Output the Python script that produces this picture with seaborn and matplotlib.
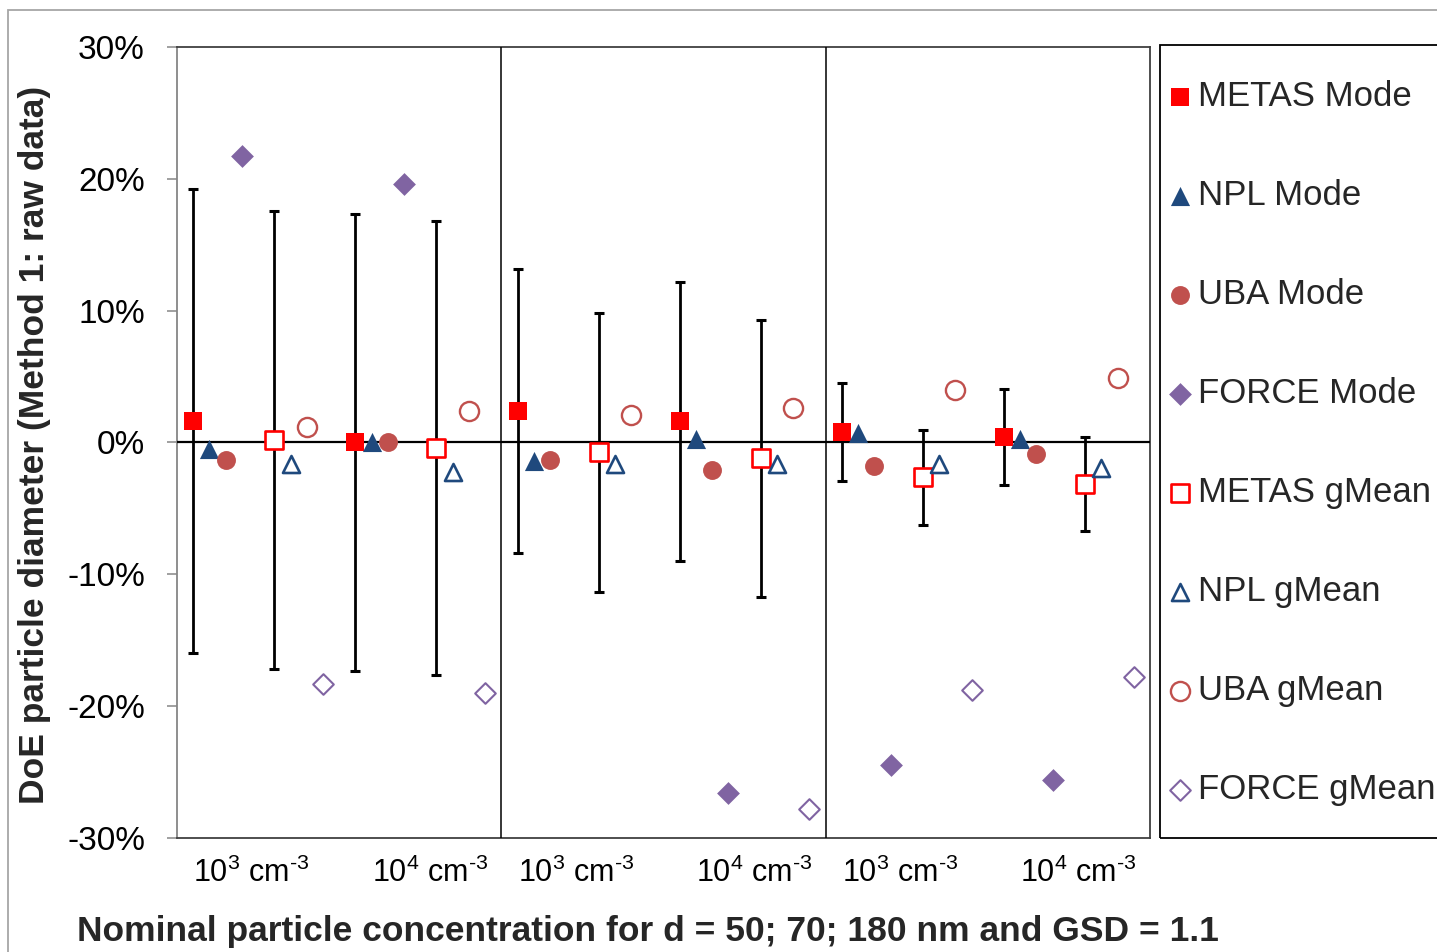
import numpy as np
import matplotlib
matplotlib.use("Agg")
import matplotlib.pyplot as plt
from matplotlib.patches import Rectangle
from matplotlib.ticker import FuncFormatter
import seaborn as sns

# Concentration groups: three particle sizes (50, 70, 180 nm) x two concentrations
group_labels = ["10$^{3}$ cm$^{\u20103}$", "10$^{4}$ cm$^{\u20103}$"] * 3

# Deviation of particle diameter, in percent, one value per group
metas_mode = [1.6, 0.0, 2.4, 1.6, 0.8, 0.4]
npl_mode = [-0.5, 0.0, -1.4, 0.25, 0.7, 0.25]
uba_mode = [-1.3, 0.0, -1.3, -2.1, -1.8, -0.9]
force_mode = [21.7, 19.6, np.nan, -26.6, -24.5, -25.6]
metas_gmean = [0.2, -0.4, -0.75, -1.2, -2.65, -3.15]
npl_gmean = [-1.6, -2.2, -1.6, -1.6, -1.6, -1.95]
uba_gmean = [1.2, 2.4, 2.1, 2.6, 4.0, 4.9]
force_gmean = [-18.3, -19.0, np.nan, -27.8, -18.8, -17.8]

# Expanded uncertainty of the reference (METAS) values, in percent
metas_mode_err = [17.6, 17.35, 10.75, 10.6, 3.75, 3.65]
metas_gmean_err = [17.35, 17.2, 10.6, 10.5, 3.6, 3.6]

series_names = ["METAS Mode", "NPL Mode", "UBA Mode", "FORCE Mode",
                "METAS gMean", "NPL gMean", "UBA gMean", "FORCE gMean"]
series_values = [metas_mode, npl_mode, uba_mode, force_mode,
                 metas_gmean, npl_gmean, uba_gmean, force_gmean]

RED, BLUE, ROSE, PURPLE = "#FF0000", "#1F497D", "#C0504D", "#8064A2"
# marker, colour, filled, size (pt^2), edge width
styles = [
    ("s", RED, True, 169, 0.0),
    ("^", BLUE, True, 190, 0.0),
    ("o", ROSE, True, 185, 0.0),
    ("D", PURPLE, True, 135, 0.0),
    ("s", RED, False, 150, 1.9),
    ("^", BLUE, False, 150, 1.9),
    ("o", ROSE, False, 190, 1.7),
    ("D", PURPLE, False, 110, 1.5),
]
slots = [0, 1, 2, 3, 5, 6, 7, 8]   # position of each series inside a group
label_offsets = [3.6, 4.6] * 3     # category label position inside a group
group_width = 10

sns.set_style("white")
plt.rcParams["font.family"] = ["Liberation Sans", "DejaVu Sans"]
plt.rcParams["mathtext.default"] = "regular"

W, H = 1437, 952
fig = plt.figure(figsize=(W / 100, H / 100), dpi=100)
ax = fig.add_axes([177 / W, 1 - 838 / H, (1150 - 177) / W, (838 - 47) / H])

n_groups = len(group_labels)
base = np.arange(n_groups) * group_width + 1

# error bars below the markers
ax.errorbar(base + slots[0], metas_mode, yerr=metas_mode_err, fmt="none",
            ecolor="black", elinewidth=2.0, capsize=3.4, capthick=2.2, zorder=2)
ax.errorbar(base + slots[4], metas_gmean, yerr=metas_gmean_err, fmt="none",
            ecolor="black", elinewidth=2.0, capsize=3.4, capthick=2.2, zorder=2)

for name, vals, (mk, col, filled, size, lw), slot in zip(series_names, series_values, styles, slots):
    if filled:
        sns.scatterplot(x=base + slot, y=vals, marker=mk, s=size, color=col,
                        edgecolor=col, linewidth=lw, ax=ax, label=name, zorder=4)
    else:
        sns.scatterplot(x=base + slot, y=vals, marker=mk, s=size, color="white",
                        edgecolor=col, linewidth=lw, ax=ax, label=name, zorder=4)

handles, labels = ax.get_legend_handles_labels()
if ax.get_legend() is not None:
    ax.get_legend().remove()

# zero line and panel separators
ax.axhline(0, color="black", lw=1.6, zorder=3)
for b in range(2 * group_width, n_groups * group_width, 2 * group_width):
    ax.axvline(b, color="black", lw=1.1, zorder=3)

ax.set_xlim(0, n_groups * group_width)
ax.set_ylim(-30, 30)
ax.set_yticks(np.arange(-30, 31, 10))
ax.yaxis.set_major_formatter(FuncFormatter(lambda v, p: f"{v:.0f}%"))
ax.set_xticks(base + np.array(label_offsets))
ax.set_xticklabels(group_labels)
ax.tick_params(axis="y", left=True, length=7, width=1.1, color="#868686",
               pad=16, labelsize=24, labelcolor="black")
ax.tick_params(axis="x", length=0, pad=14, labelsize=22, labelcolor="black")
ax.set_xlabel("")
ax.set_ylabel("")

for side in ["top", "right", "bottom"]:
    ax.spines[side].set_color("#404040")
    ax.spines[side].set_linewidth(1.3)
ax.spines["left"].set_color("#868686")
ax.spines["left"].set_linewidth(1.3)

fig.text(35 / W, 1 - 445 / H, "DoE particle diameter (Method 1: raw data)",
         rotation=90, ha="center", va="center", fontsize=25.5, fontweight="bold")
fig.text(648 / W, 1 - 931 / H,
         "Nominal particle concentration for d = 50; 70; 180 nm and GSD = 1.1",
         ha="center", va="center", fontsize=25.5, fontweight="bold")

# legend with its own frame
fig.add_artist(Rectangle((1160 / W, 1 - 838 / H), (1500 - 1160) / W, (838 - 45) / H,
                         transform=fig.transFigure, fill=False, edgecolor="black",
                         lw=1.3, clip_on=False))
fig.legend(handles, labels, loc="upper left", bbox_to_anchor=(1169.6 / W, 1 - 80 / H),
           frameon=False, borderpad=0, handlelength=0.6, handletextpad=0.22,
           labelspacing=1.9, fontsize=25, scatterpoints=1, borderaxespad=0)

# outer chart border
fig.add_artist(Rectangle((8 / W, -0.1), 1.2, 1.1 - 10 / H, transform=fig.transFigure,
                         fill=False, edgecolor="#A6A6A6", lw=1.3, clip_on=False))

fig.savefig("out.png", dpi=100)
